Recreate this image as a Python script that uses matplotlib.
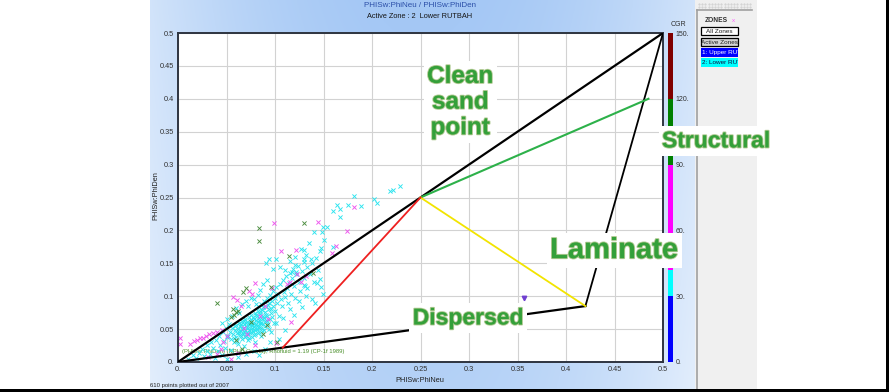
import numpy as np
import matplotlib
matplotlib.use("Agg")
import matplotlib.pyplot as plt
from matplotlib.patches import Rectangle
from matplotlib.transforms import Bbox
import matplotlib.patheffects as pe

plt.rcParams['font.family'] = ['Liberation Sans', 'DejaVu Sans']

# ---------------- data ----------------
title_main = "PHISw:PhiNeu / PHISw:PhiDen"
title_sub = "Active Zone : 2  Lower RUTBAH"
x_label = "PHISw:PhiNeu"
y_label = "PHISw:PhiDen"
x_ticks = [0.0, 0.05, 0.1, 0.15, 0.2, 0.25, 0.3, 0.35, 0.4, 0.45, 0.5]
x_tick_labels = ["0.", "0.05", "0.1", "0.15", "0.2", "0.25", "0.3", "0.35", "0.4", "0.45", "0.5"]
y_ticks = x_ticks
y_tick_labels = x_tick_labels

# GR colour scale (bounds and colours of each class)
gr_bounds = [0, 30, 42, 90, 120, 150]
gr_colors = ["#0000ff", "#00ffff", "#ff00ff", "#008000", "#800000"]
gr_ticks = [0, 30, 60, 90, 120, 150]
gr_tick_labels = ["0.", "30.", "60.", "90.", "120.", "150."]

# Thomas-Stieber style model points
clean_sand = (0.25, 0.25)
shale_pt = (0.5, 0.5)
dispersed_pt = (0.42, 0.085)
structural_pt = (0.485, 0.40)
red_end = (0.108, 0.0219)

# points coloured by GR class
cyan_pts = [
    (0.010, 0.004), (0.015, 0.010), (0.019, 0.006), (0.022, 0.014), (0.025, 0.020),
    (0.027, 0.009), (0.030, 0.017), (0.030, 0.026), (0.033, 0.012), (0.034, 0.030),
    (0.036, 0.021), (0.038, 0.006), (0.039, 0.034), (0.041, 0.016), (0.042, 0.040),
    (0.043, 0.026), (0.045, 0.011), (0.046, 0.046), (0.047, 0.032), (0.048, 0.022),
    (0.049, 0.052), (0.050, 0.004), (0.050, 0.038),
    (0.052, 0.040), (0.054, 0.046), (0.055, 0.035), (0.056, 0.052), (0.057, 0.042),
    (0.058, 0.030), (0.059, 0.048), (0.060, 0.056), (0.060, 0.038), (0.061, 0.044),
    (0.062, 0.050), (0.062, 0.028), (0.063, 0.060), (0.064, 0.041), (0.064, 0.054),
    (0.065, 0.047), (0.066, 0.035), (0.066, 0.062), (0.067, 0.052), (0.067, 0.043),
    (0.068, 0.058), (0.068, 0.024), (0.069, 0.049), (0.069, 0.066), (0.070, 0.040),
    (0.070, 0.055), (0.071, 0.061), (0.071, 0.046), (0.072, 0.052), (0.072, 0.033),
    (0.073, 0.068), (0.073, 0.057), (0.074, 0.044), (0.074, 0.063), (0.075, 0.050),
    (0.075, 0.072), (0.076, 0.056), (0.076, 0.038), (0.077, 0.060), (0.077, 0.047),
    (0.078, 0.066), (0.078, 0.053), (0.079, 0.075), (0.079, 0.042), (0.080, 0.058),
    (0.080, 0.064), (0.081, 0.050), (0.081, 0.070), (0.082, 0.061), (0.082, 0.078),
    (0.083, 0.055), (0.083, 0.045), (0.084, 0.067), (0.084, 0.083), (0.085, 0.060),
    (0.085, 0.073), (0.086, 0.052), (0.086, 0.088), (0.087, 0.065), (0.087, 0.079),
    (0.088, 0.058), (0.088, 0.070), (0.089, 0.092), (0.089, 0.048), (0.090, 0.076),
    (0.090, 0.063), (0.091, 0.084), (0.092, 0.070), (0.092, 0.097), (0.093, 0.058),
    (0.094, 0.080), (0.094, 0.089), (0.095, 0.102), (0.095, 0.066), (0.096, 0.074),
    (0.097, 0.093), (0.098, 0.085), (0.098, 0.108), (0.099, 0.060), (0.100, 0.097),
    (0.100, 0.078), (0.101, 0.114), (0.102, 0.090), (0.103, 0.104), (0.104, 0.070),
    (0.105, 0.118), (0.106, 0.095), (0.107, 0.085), (0.108, 0.125), (0.109, 0.106),
    (0.110, 0.099), (0.111, 0.130), (0.112, 0.112), (0.113, 0.090), (0.114, 0.120),
    (0.115, 0.136), (0.116, 0.104), (0.118, 0.127), (0.119, 0.142), (0.120, 0.115),
    (0.121, 0.097), (0.122, 0.133), (0.124, 0.146), (0.125, 0.122), (0.126, 0.108),
    (0.128, 0.138), (0.130, 0.128), (0.131, 0.116), (0.133, 0.145), (0.136, 0.134),
    (0.138, 0.150), (0.140, 0.122), (0.142, 0.158), (0.144, 0.140), (0.146, 0.168),
    (0.045, 0.060), (0.050, 0.065), (0.053, 0.058), (0.056, 0.070), (0.060, 0.082),
    (0.063, 0.075), (0.066, 0.088), (0.070, 0.092), (0.072, 0.085), (0.075, 0.098),
    (0.078, 0.095), (0.082, 0.102), (0.085, 0.110), (0.088, 0.118), (0.092, 0.125),
    (0.080, 0.088),
    (0.133, 0.113), (0.147, 0.114), (0.149, 0.104), (0.141, 0.090), (0.132, 0.101),
    (0.125, 0.093), (0.115, 0.081), (0.108, 0.067), (0.101, 0.059), (0.110, 0.049),
    (0.086, 0.039), (0.079, 0.031), (0.095, 0.030), (0.104, 0.035), (0.090, 0.020),
    (0.070, 0.012), (0.062, 0.008), (0.078, 0.016), (0.055, 0.018), (0.084, 0.010),
    (0.096, 0.045), (0.120, 0.072), (0.128, 0.084), (0.138, 0.096), (0.143, 0.120),
    (0.146, 0.126), (0.130, 0.117),
    (0.229, 0.268), (0.219, 0.260), (0.222, 0.262), (0.181, 0.252), (0.202, 0.247),
    (0.205, 0.241), (0.164, 0.238), (0.167, 0.233), (0.175, 0.238), (0.189, 0.237),
    (0.160, 0.229), (0.167, 0.221), (0.149, 0.205), (0.154, 0.205), (0.148, 0.197),
    (0.140, 0.197), (0.151, 0.185), (0.135, 0.181), (0.147, 0.174), (0.160, 0.175),
    (0.127, 0.172), (0.130, 0.170), (0.132, 0.163), (0.121, 0.160), (0.130, 0.157),
    (0.137, 0.157), (0.130, 0.152), (0.121, 0.148), (0.118, 0.137), (0.122, 0.137),
    (0.101, 0.157), (0.115, 0.153), (0.094, 0.156), (0.091, 0.150), (0.098, 0.142),
    (0.105, 0.145), (0.110, 0.140),
    (0.058, 0.036), (0.059, 0.054), (0.061, 0.032), (0.063, 0.046), (0.065, 0.040),
    (0.065, 0.057), (0.066, 0.050), (0.068, 0.045), (0.068, 0.063), (0.069, 0.038),
    (0.070, 0.060), (0.071, 0.053), (0.072, 0.043), (0.073, 0.049), (0.073, 0.036),
    (0.074, 0.058), (0.075, 0.045), (0.075, 0.064), (0.076, 0.052), (0.077, 0.069),
    (0.078, 0.041), (0.078, 0.058), (0.079, 0.049), (0.080, 0.071), (0.081, 0.055),
    (0.082, 0.044), (0.083, 0.064), (0.084, 0.052), (0.085, 0.078), (0.086, 0.060),
    (0.087, 0.047), (0.088, 0.083), (0.089, 0.067), (0.090, 0.055), (0.091, 0.072),
    (0.092, 0.062), (0.093, 0.086), (0.094, 0.050), (0.096, 0.080), (0.097, 0.068),
]
magenta_pts = [
    (0.002, 0.036), (0.002, 0.028), (0.012, 0.027), (0.017, 0.032), (0.020, 0.034),
    (0.023, 0.036), (0.026, 0.037), (0.029, 0.040), (0.032, 0.042), (0.036, 0.044),
    (0.040, 0.046), (0.045, 0.049), (0.050, 0.040), (0.046, 0.031), (0.044, 0.020),
    (0.040, 0.012), (0.031, 0.008), (0.057, 0.099), (0.061, 0.094), (0.065, 0.085),
    (0.076, 0.104), (0.079, 0.120), (0.097, 0.112), (0.099, 0.212), (0.106, 0.169),
    (0.122, 0.170), (0.123, 0.134), (0.127, 0.121), (0.132, 0.130), (0.144, 0.213),
    (0.174, 0.199), (0.181, 0.235), (0.163, 0.176), (0.159, 0.165), (0.117, 0.061),
    (0.101, 0.029), (0.071, 0.042), (0.079, 0.026), (0.090, 0.085), (0.085, 0.070),
    (0.062, 0.014), (0.055, 0.005), (0.068, 0.052), (0.093, 0.065), (0.112, 0.118),
    (0.115, 0.122), (0.073, 0.108),
]
green_pts = [
    (0.040, 0.090), (0.055, 0.068), (0.057, 0.080), (0.058, 0.072), (0.060, 0.076),
    (0.062, 0.078), (0.067, 0.107), (0.070, 0.112), (0.083, 0.204), (0.083, 0.184),
    (0.114, 0.161), (0.130, 0.211), (0.139, 0.135), (0.096, 0.114), (0.060, 0.033),
    (0.088, 0.043), (0.102, 0.030), (0.075, 0.061), (0.066, 0.020), (0.092, 0.056),
]

points_shown = 610
points_total = 2007
overlay_note = "(PHISw:PhiDen) (NPHI) Overlay, Rhofluid = 1.19 (CP-1f 1989)"
zone_names = ["1: Upper RUTBAH", "2: Lower RUTBAH"]
zone_colors = ["#0000ff", "#00ffff"]

# ---------------- figure ----------------
W, H = 889, 392
fig = plt.figure(figsize=(W / 100, H / 100), dpi=100)
fig.patch.set_facecolor("white")

# pixel-space backdrop
bg = fig.add_axes([0, 0, 1, 1])
bg.set_xlim(0, W)
bg.set_ylim(H, 0)
bg.axis("off")

# blue gradient panel behind the chart
gx = np.linspace(0, 1, 300)
gy = np.linspace(0, 1, 150)
GX, GY = np.meshgrid(gx, gy)
t = np.clip(1 - ((GX - 0.5) / 0.6) ** 2 - 0.25 * GY, 0, 1)
c_edge = np.array([0.90, 0.94, 0.99])
c_mid = np.array([0.64, 0.78, 0.96])
img = c_edge[None, None, :] * (1 - t[..., None]) + c_mid[None, None, :] * t[..., None]
bg.imshow(img, extent=[150, 695, 389, 0], aspect="auto", zorder=0)

# zones side panel
bg.add_patch(Rectangle((695, 0), 62, 389, facecolor="#f0f0f0", edgecolor="none", zorder=1))
bg.plot([697, 697], [10, 389], color="#a0a0a0", lw=1.2, zorder=2)
bg.plot([697, 752], [10, 10], color="#a0a0a0", lw=1.2, zorder=2)
for yy in (3.5, 6.5):
    bg.scatter(np.arange(699, 752, 3.2), np.full(17, yy), s=0.3, color="#d0d0d0", zorder=2)
bg.text(705, 20, "ZONES", fontsize=4.8, fontweight="bold", color="#303030", va="center", zorder=3)
bg.text(733, 20, "x", fontsize=4.5, color="#ff60ff", va="center", ha="center", zorder=3)
bg.add_patch(Rectangle((701, 27), 37, 8, facecolor="white", edgecolor="black", lw=0.9, zorder=3))
bg.text(719.5, 31.2, "All Zones", fontsize=4.6, ha="center", va="center", color="#202020", zorder=4)
bg.add_patch(Rectangle((701, 38), 37, 8, facecolor="#d4d4d4", edgecolor="black", lw=0.9, zorder=3))
bg.text(719.5, 42.2, "Active Zones", fontsize=4.6, ha="center", va="center", color="#202020", zorder=4)
for i, (zn, zc) in enumerate(zip(zone_names, zone_colors)):
    y0 = 48 + 10 * i
    bg.add_patch(Rectangle((701, y0), 37, 9, facecolor=zc, edgecolor="none", zorder=3))
    tx = bg.text(702.5, y0 + 4.7, zn, fontsize=4.6, ha="left", va="center",
                 color="white" if i == 0 else "#101040", zorder=4)
    p0 = bg.transData.transform((701, y0 + 9))
    p1 = bg.transData.transform((738, y0))
    tx.set_clip_box(Bbox([p0, p1]))
    tx.set_clip_on(True)

# frame edges
bg.add_patch(Rectangle((0, 389), W, 3, facecolor="black", edgecolor="none", zorder=5))
bg.add_patch(Rectangle((886, 0), 3, H, facecolor="black", edgecolor="none", zorder=5))

# titles and footer
bg.text(420, 5, title_main, fontsize=5.8, ha="center", va="center", color="#2b4fa8", zorder=3)
bg.text(420, 16, title_sub, fontsize=5.3, ha="center", va="center", color="#151515", zorder=3)
bg.text(150, 386, f"{points_shown} points plotted out of {points_total}", fontsize=4.3,
        ha="left", va="center", color="#202020", zorder=3)
bg.text(420, 380, x_label, fontsize=5.3, ha="center", va="center", color="#202020", zorder=3)
bg.text(156, 196, y_label, fontsize=5.3, ha="center", va="center", rotation=90,
        color="#202020", zorder=3)

# ---------------- main crossplot ----------------
ax = fig.add_axes([178 / W, 30 / H, 485 / W, 329 / H])
ax.set_facecolor("white")
ax.set_xlim(0, 0.5)
ax.set_ylim(0, 0.5)
ax.set_xticks(x_ticks)
ax.set_xticklabels(x_tick_labels)
ax.set_yticks(y_ticks)
ax.set_yticklabels(y_tick_labels)
ax.tick_params(length=0, labelsize=5.3, labelcolor="#303030", pad=3)
ax.grid(True, color="#d2d2d2", lw=0.8)
ax.set_axisbelow(True)
for sp in ax.spines.values():
    sp.set_color("#2e3440")
    sp.set_linewidth(1.4)

ax.text(0.004, 0.013, overlay_note, fontsize=4.2, color="#4a8f2a", zorder=1)

for pts, col in ((cyan_pts, "#2ae4ef"), (magenta_pts, "#ee55ee"), (green_pts, "#4a8c3e")):
    px = [p[0] for p in pts]
    py = [p[1] for p in pts]
    ax.scatter(px, py, marker="x", s=9, linewidths=0.65, color=col, zorder=2)

# model lines
ax.plot([0, shale_pt[0]], [0, shale_pt[1]], color="black", lw=1.6, zorder=4)
ax.plot([0, dispersed_pt[0]], [0, dispersed_pt[1]], color="black", lw=1.6, zorder=4)
ax.plot([dispersed_pt[0], shale_pt[0]], [dispersed_pt[1], shale_pt[1]], color="black", lw=1.3, zorder=4)
ax.plot([clean_sand[0], structural_pt[0]], [clean_sand[1], structural_pt[1]], color="#2db14a", lw=1.5, zorder=4)
ax.plot([clean_sand[0], dispersed_pt[0]], [clean_sand[1], dispersed_pt[1]], color="#f2e400", lw=1.3, zorder=4)
ax.plot([clean_sand[0], red_end[0]], [clean_sand[1], red_end[1]], color="#ee2020", lw=1.3, zorder=4)
ax.plot([0.357], [0.097], marker="v", ms=3.2, color="#7040d0", zorder=5, clip_on=False)

# ---------------- GR colour bar ----------------
cb = fig.add_axes([668 / W, 30 / H, 5 / W, 329 / H])
for lo, hi, col in zip(gr_bounds[:-1], gr_bounds[1:], gr_colors):
    cb.bar(0.5, hi - lo, bottom=lo, width=1.0, color=col, edgecolor="none")
cb.set_xlim(0, 1)
cb.set_ylim(gr_bounds[0], gr_bounds[-1])
cb.set_xticks([])
cb.yaxis.tick_right()
cb.set_yticks(gr_ticks)
cb.set_yticklabels(gr_tick_labels)
cb.tick_params(length=0, labelsize=5.0, labelcolor="#303030", pad=2)
for sp in cb.spines.values():
    sp.set_visible(False)
bg.text(678, 24, "CGR", fontsize=5.0, ha="center", va="center", color="#303030", zorder=3)

# ---------------- model labels ----------------
lab_color = "#34a03a"
effects = [pe.withStroke(linewidth=1.4, foreground="#6f9f3a", alpha=0.55)]
box = dict(facecolor="white", edgecolor="none", pad=2.5)
label_specs = [
    ("Clean\nsand\npoint", 0.291, 0.395, 17.5, 1.15),
    ("Structural", 0.5546, 0.336, 16.5, 1.2),
    ("Laminate", 0.4495, 0.170, 21.0, 1.2),
    ("Dispersed", 0.299, 0.0669, 16.5, 1.2),
]
for s, lx, ly, fs, ls in label_specs:
    fig.text(lx, ly, s, transform=ax.transData, fontsize=fs, fontweight="bold",
             color=lab_color, ha="center", va="center", linespacing=ls,
             bbox=box, path_effects=effects, zorder=10)

fig.savefig("out.png", dpi=100)
